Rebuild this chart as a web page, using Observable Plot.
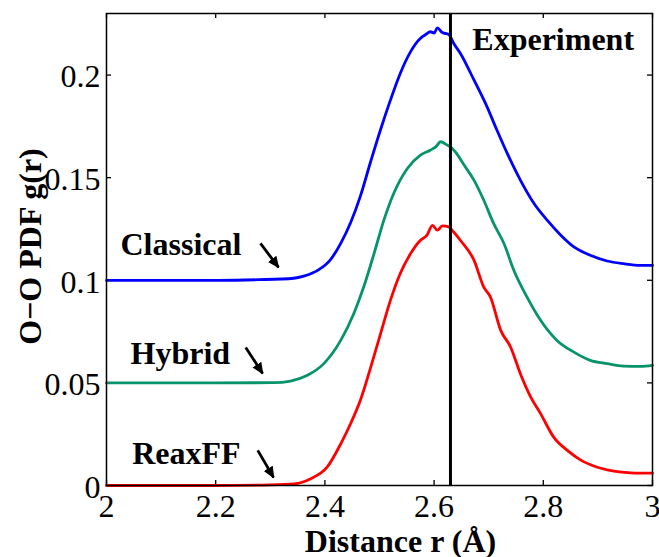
<!DOCTYPE html>
<html>
<head>
<meta charset="utf-8">
<script src="https://cdn.jsdelivr.net/npm/d3@7"></script>
<script src="https://cdn.jsdelivr.net/npm/@observablehq/plot@0.6"></script>
<style>
  html, body { margin: 0; padding: 0; background: white; }
  #chart svg { display: block; }
</style>
</head>
<body>
<div id="chart"></div>
<script>
// O–O pair distribution functions, offset vertically per model
const classicalR = [2.00, 2.10, 2.20, 2.28, 2.343, 2.361, 2.389, 2.410, 2.429, 2.447, 2.465, 2.484, 2.502, 2.520, 2.538, 2.557, 2.575, 2.586, 2.593, 2.600, 2.606, 2.615, 2.627, 2.636, 2.648, 2.673, 2.697, 2.715, 2.734, 2.758, 2.783, 2.807, 2.832, 2.856, 2.886, 2.917, 2.947, 2.978, 3.000];
const classicalG = [0.1000, 0.1000, 0.1000, 0.1003, 0.1010, 0.1020, 0.1052, 0.1100, 0.1180, 0.1280, 0.1410, 0.1580, 0.1735, 0.1878, 0.2008, 0.2114, 0.2179, 0.2200, 0.2211, 0.2205, 0.2230, 0.2207, 0.2198, 0.2154, 0.2106, 0.1976, 0.1845, 0.1732, 0.1618, 0.1488, 0.1374, 0.1293, 0.1220, 0.1163, 0.1122, 0.1094, 0.1081, 0.1073, 0.1073];

const hybridR = [2.00, 2.20, 2.306, 2.337, 2.368, 2.398, 2.429, 2.453, 2.471, 2.490, 2.508, 2.526, 2.551, 2.575, 2.593, 2.603, 2.612, 2.624, 2.630, 2.642, 2.654, 2.673, 2.691, 2.709, 2.728, 2.746, 2.770, 2.795, 2.825, 2.856, 2.886, 2.917, 2.947, 2.978, 3.000];
const hybridG = [0.0500, 0.0500, 0.0501, 0.0509, 0.0537, 0.0594, 0.0707, 0.0838, 0.0967, 0.1130, 0.1293, 0.1423, 0.1545, 0.1610, 0.1634, 0.1650, 0.1675, 0.1659, 0.1650, 0.1615, 0.1565, 0.1488, 0.1390, 0.1277, 0.1179, 0.1049, 0.0919, 0.0805, 0.0707, 0.0650, 0.0610, 0.0594, 0.0582, 0.0580, 0.0585];

const reaxffR = [2.00, 2.20, 2.30, 2.343, 2.374, 2.404, 2.429, 2.447, 2.465, 2.484, 2.502, 2.520, 2.538, 2.557, 2.575, 2.587, 2.597, 2.606, 2.615, 2.627, 2.630, 2.648, 2.673, 2.691, 2.703, 2.722, 2.740, 2.758, 2.777, 2.795, 2.819, 2.844, 2.868, 2.899, 2.929, 2.960, 3.000];
const reaxffG = [0, 0, 0.0003, 0.0008, 0.0033, 0.0089, 0.0203, 0.0301, 0.0415, 0.0577, 0.0740, 0.0902, 0.1033, 0.1130, 0.1195, 0.1220, 0.1268, 0.1244, 0.1265, 0.1260, 0.1252, 0.1195, 0.1098, 0.0967, 0.0919, 0.0756, 0.0675, 0.0545, 0.0431, 0.0350, 0.0236, 0.0171, 0.0125, 0.0089, 0.0070, 0.0062, 0.0060];

const experimentR = [2.63];

// Axis ticks
const xTicks = [2, 2.2, 2.4, 2.6, 2.8, 3];
const yTicks = [0, 0.05, 0.1, 0.15, 0.2];

// Series labels and their pointer arrows
const labelNames = ["Classical", "Hybrid", "ReaxFF", "Experiment"];
const labelR = [2.0256, 2.044, 2.047, 2.670];
const labelG = [0.1122, 0.0594, 0.0106, 0.2122];

const arrowR1 = [2.282, 2.255, 2.277];
const arrowG1 = [0.1180, 0.0673, 0.0171];
const arrowR2 = [2.315, 2.286, 2.306];
const arrowG2 = [0.1063, 0.0546, 0.0039];

const FONT = "Liberation Serif, Times New Roman, serif";

const toRows = (xs, ys) => xs.map((x, i) => ({r: x, g: ys[i]}));
const classical = toRows(classicalR, classicalG);
const hybrid = toRows(hybridR, hybridG);
const reaxff = toRows(reaxffR, reaxffG);
const labels = labelNames.map((t, i) => ({t, r: labelR[i], g: labelG[i]}));
const arrows = arrowR1.map((_, i) => ({x1: arrowR1[i], y1: arrowG1[i], x2: arrowR2[i], y2: arrowG2[i]}));

// Solid triangular arrowhead, tip placed at the end of the link
function solidHead(color) {
  const m = d3.create("svg:marker")
    .attr("viewBox", "0 -5 10 10")
    .attr("refX", 9)
    .attr("refY", 0)
    .attr("markerWidth", 4.2)
    .attr("markerHeight", 4.2)
    .attr("orient", "auto");
  m.append("path").attr("d", "M0,-4.5L10,0L0,4.5Z").attr("fill", color).attr("stroke", "none");
  return m.node();
}

// Layout
const W = 659, H = 557;
const M = {left: 106, right: 7, top: 13, bottom: 72};
const innerW = W - M.left - M.right;
const innerH = H - M.top - M.bottom;
const TICK = 5; // inward tick length in px

const tickStyle = {stroke: "black", strokeWidth: 1.3};

const chart = Plot.plot({
  width: W,
  height: H,
  marginLeft: M.left,
  marginRight: M.right,
  marginTop: M.top,
  marginBottom: M.bottom,
  style: {fontFamily: FONT, fontSize: "32px", background: "white", color: "black"},
  x: {domain: [2, 3]},
  y: {domain: [0, 0.23]},
  marks: [
    // tick labels
    Plot.axisX({ticks: xTicks, tickSize: 0, tickPadding: 9, tickFormat: d => String(d), label: null, fontSize: 32}),
    Plot.axisY({ticks: yTicks, tickSize: 0, tickPadding: 6, tickFormat: d => String(d), label: null, fontSize: 32, dy: 2}),
    // inward ticks on all four sides of the box
    Plot.ruleX(xTicks, {insetTop: innerH - TICK, ...tickStyle}),
    Plot.ruleX(xTicks, {insetBottom: innerH - TICK, ...tickStyle}),
    Plot.ruleY(yTicks, {insetRight: innerW - TICK, ...tickStyle}),
    Plot.ruleY(yTicks, {insetLeft: innerW - TICK, ...tickStyle}),
    // curves
    Plot.line(classical, {x: "r", y: "g", stroke: "#0000ff", strokeWidth: 2.8, curve: "monotone-x"}),
    Plot.line(hybrid, {x: "r", y: "g", stroke: "#07946a", strokeWidth: 2.8, curve: "monotone-x"}),
    Plot.line(reaxff, {x: "r", y: "g", stroke: "#ff0000", strokeWidth: 2.8, curve: "monotone-x"}),
    // experimental peak position
    Plot.ruleX(experimentR, {stroke: "black", strokeWidth: 3}),
    // annotations
    Plot.text(labels, {x: "r", y: "g", text: "t", textAnchor: "start", lineAnchor: "bottom", fontWeight: "bold", fontSize: 32, fontFamily: FONT, fill: "black"}),
    Plot.link(arrows, {x1: "x1", y1: "y1", x2: "x2", y2: "y2", stroke: "black", strokeWidth: 2.8, markerEnd: solidHead}),
    // axis titles
    Plot.text(["Distance r (Å)"], {frameAnchor: "bottom", dy: 66, dx: 21, textAnchor: "middle", lineAnchor: "bottom", fontWeight: "bold", fontSize: 32, fontFamily: FONT, fill: "black"}),
    Plot.text(["O−O PDF g(r)"], {frameAnchor: "left", dx: -66, dy: -3, rotate: -90, textAnchor: "middle", lineAnchor: "bottom", fontWeight: "bold", fontSize: 32, fontFamily: FONT, fill: "black"}),
    Plot.frame({stroke: "black", strokeWidth: 1.5})
  ]
});

document.getElementById("chart").appendChild(chart);
</script>
</body>
</html>
